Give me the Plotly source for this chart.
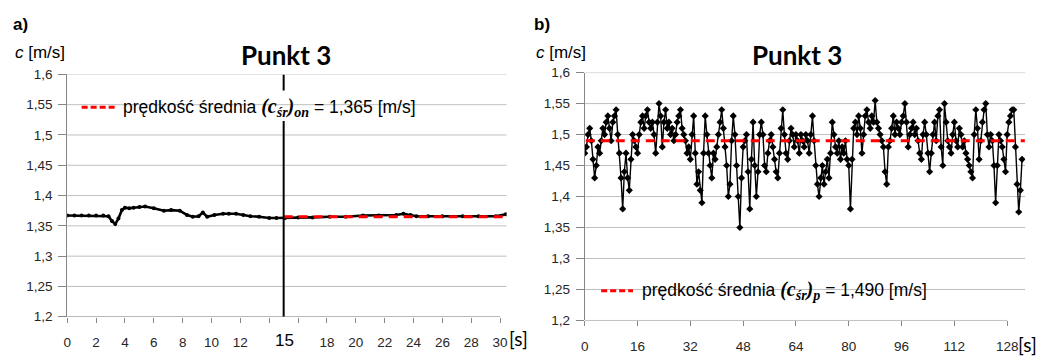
import plotly.graph_objects as go

# ---- panel a): 0-30 s, mean taken over the second half ----
t_a = [0.0, 0.5, 1.0, 1.5, 2.0, 2.5, 2.86, 3.1, 3.33, 3.55, 3.79, 4.0, 4.3, 4.6, 5.0,
       5.4, 6.0, 6.7, 7.2, 7.8, 8.3, 8.7, 9.1, 9.4, 9.7, 10.2, 10.8, 11.2, 11.7, 12.2,
       12.7, 13.3, 14.0, 14.5, 15.1, 16.0, 17.0, 18.2, 19.3, 20.5, 21.6, 22.8, 23.3,
       23.8, 24.2, 25.0, 26.0, 27.4, 28.5, 29.7, 30.4]
c_a = [1.367, 1.367, 1.367, 1.367, 1.367, 1.367, 1.366, 1.358, 1.353, 1.362, 1.376,
       1.380, 1.379, 1.380, 1.381, 1.382, 1.379, 1.375, 1.376, 1.375, 1.368, 1.365,
       1.366, 1.372, 1.365, 1.368, 1.370, 1.370, 1.370, 1.368, 1.366, 1.365, 1.363,
       1.363, 1.363, 1.364, 1.364, 1.365, 1.365, 1.367, 1.367, 1.368, 1.370, 1.368,
       1.366, 1.366, 1.366, 1.366, 1.366, 1.366, 1.369]
split_t = 15
mean_on = 1.365

# ---- panel b): 0-133 s, sampled every 0.5 s ----
dt_b = 0.5
c_b = [1.47, 1.48, 1.50, 1.51, 1.49, 1.46, 1.43, 1.45, 1.48, 1.47,
       1.49, 1.51, 1.50, 1.52, 1.53, 1.51, 1.49, 1.52, 1.53, 1.54,
       1.50, 1.47, 1.43, 1.38, 1.44, 1.47, 1.43, 1.41, 1.46, 1.50,
       1.49, 1.48, 1.47, 1.50, 1.52, 1.53, 1.51, 1.53, 1.54, 1.52,
       1.51, 1.52, 1.50, 1.47, 1.52, 1.55, 1.53, 1.48, 1.52, 1.54,
       1.51, 1.52, 1.50, 1.51, 1.49, 1.50, 1.52, 1.53, 1.54, 1.51,
       1.50, 1.49, 1.47, 1.48, 1.46, 1.50, 1.53, 1.47, 1.42, 1.44,
       1.41, 1.39, 1.47, 1.53, 1.50, 1.47, 1.45, 1.43, 1.47, 1.46,
       1.48, 1.50, 1.52, 1.54, 1.51, 1.48, 1.45, 1.40, 1.42, 1.49,
       1.53, 1.50, 1.45, 1.40, 1.35, 1.43, 1.48, 1.49, 1.50, 1.44,
       1.38, 1.46, 1.52, 1.45, 1.40, 1.44, 1.50, 1.52, 1.50, 1.45,
       1.44, 1.47, 1.49, 1.50, 1.48, 1.46, 1.44, 1.43, 1.47, 1.51,
       1.54, 1.50, 1.47, 1.46, 1.49, 1.51, 1.50, 1.48, 1.50, 1.49,
       1.47, 1.50, 1.49, 1.48, 1.50, 1.49, 1.47, 1.50, 1.53, 1.49,
       1.45, 1.42, 1.40, 1.43, 1.45, 1.42, 1.44, 1.46, 1.43, 1.47,
       1.52, 1.50, 1.48, 1.47, 1.49, 1.46, 1.48, 1.47, 1.49, 1.46,
       1.45, 1.38, 1.46, 1.51, 1.52, 1.50, 1.53, 1.51, 1.47, 1.50,
       1.53, 1.54, 1.52, 1.51, 1.53, 1.52, 1.555, 1.52, 1.51, 1.50,
       1.49, 1.48, 1.44, 1.42, 1.48, 1.49, 1.51, 1.53, 1.50, 1.52,
       1.51, 1.50, 1.52, 1.53, 1.55, 1.52, 1.48, 1.50, 1.51, 1.52,
       1.50, 1.51, 1.49, 1.47, 1.46, 1.50, 1.52, 1.50, 1.47, 1.44,
       1.47, 1.50, 1.52, 1.49, 1.53, 1.54, 1.48, 1.45, 1.55, 1.52,
       1.49, 1.48, 1.47, 1.50, 1.52, 1.49, 1.48, 1.51, 1.50, 1.48,
       1.49, 1.47, 1.46, 1.45, 1.44, 1.43, 1.50, 1.54, 1.51, 1.46,
       1.49, 1.52, 1.54, 1.55, 1.50, 1.48, 1.50, 1.49, 1.45, 1.39,
       1.45, 1.50, 1.49, 1.48, 1.46, 1.44, 1.50, 1.52, 1.53, 1.54,
       1.54, 1.48, 1.42, 1.375, 1.41, 1.46]
t_b = [i * dt_b for i in range(len(c_b))]
mean_p = 1.490

# ---- axes ----
y_ticks = [1.2, 1.25, 1.3, 1.35, 1.4, 1.45, 1.5, 1.55, 1.6]
y_ticktext = ["1,2", "1,25", "1,3", "1,35", "1,4", "1,45", "1,5", "1,55", "1,6"]
x_ticks_a = list(range(0, 31, 2))
x_ticktext_a = ["0", "2", "4", "6", "8", "10", "12", "", "", "18", "20", "22",
                "24", "26", "28", "30"]
x_ticks_b = list(range(0, 129, 16))
x_ticktext_b = ["0", "16", "32", "48", "64", "80", "96", "112", "128"]

W, H = 1061, 363
X_END_A, X_END_B = 30.45, 133.45
GRID = "#BFBFBF"
AXIS = "#868686"
RED = "#FF0000"
TICKFONT = dict(family="Liberation Sans, Arial", size=13.5, color="#262626")

fig = go.Figure()

# data
fig.add_trace(go.Scatter(x=t_a, y=c_a, mode="lines+markers", xaxis="x", yaxis="y",
                         line=dict(color="black", width=2.6),
                         marker=dict(color="black", size=4), showlegend=False))
fig.add_trace(go.Scatter(x=[split_t, X_END_A], y=[mean_on, mean_on], mode="lines",
                         xaxis="x", yaxis="y",
                         line=dict(color=RED, width=3, dash="9px,6px"), showlegend=False))
fig.add_trace(go.Scatter(x=t_b, y=c_b, mode="lines+markers", xaxis="x2", yaxis="y2",
                         line=dict(color="black", width=1.4),
                         marker=dict(color="black", size=5.5, symbol="diamond"),
                         showlegend=False))
fig.add_trace(go.Scatter(x=[0.3, X_END_B - 0.1], y=[mean_p, mean_p], mode="lines",
                         xaxis="x2", yaxis="y2",
                         line=dict(color=RED, width=3, dash="9px,6px"), showlegend=False))

def px_x(x):
    return x / W

def px_y(y):
    return 1 - y / H

xa = dict(anchor="y", range=[0, X_END_A], domain=[px_x(63.5), px_x(505)], showgrid=False,
          zeroline=False, showline=False, ticks="outside", ticklen=5, tickwidth=1,
          tickcolor=AXIS, tickmode="array", tickvals=x_ticks_a, ticktext=x_ticktext_a,
          tickfont=TICKFONT, ticklabelstandoff=8)
xb = dict(xa, anchor="y2", range=[0, X_END_B], domain=[px_x(583.5), px_x(1026)],
          tickvals=x_ticks_b, ticktext=x_ticktext_b)
ya = dict(anchor="x", range=[1.2, 1.6], domain=[px_y(323.1), px_y(70.3)], showgrid=False,
          zeroline=False, showline=True, linecolor=AXIS, linewidth=1,
          ticks="outside", ticklen=8, tickwidth=1, tickcolor=AXIS,
          tickmode="array", tickvals=y_ticks, ticktext=y_ticktext, tickfont=TICKFONT,
          ticklabelstandoff=3)
yb = dict(ya, anchor="x2", domain=[px_y(327), px_y(68.4)])

shapes = []
for xr, yr, xend in (("x", "y", 30), ("x2", "y2", 128)):
    for v in y_ticks[1:]:
        shapes.append(dict(type="line", xref=xr + " domain", yref=yr, x0=0, x1=1,
                           y0=v, y1=v, line=dict(color=GRID, width=1), layer="below"))
    shapes.append(dict(type="line", xref=xr, yref=yr, x0=0, x1=xend, y0=1.2, y1=1.2,
                       line=dict(color=AXIS, width=1), layer="below"))

# split marker at 15 s, interrupted behind the key text
shapes.append(dict(type="line", xref="x", yref="y", x0=split_t, x1=split_t,
                   y0=1.2, y1=1.523, line=dict(color="black", width=2)))
shapes.append(dict(type="line", xref="x", yref="y", x0=split_t, x1=split_t,
                   y0=1.5736, y1=1.6, line=dict(color="black", width=2)))

# key samples
for (x0, x1, y) in ((78, 112, 104.5), (600, 632, 296)):
    shapes.append(dict(type="line", xref="paper", yref="paper", x0=px_x(x0), x1=px_x(x1),
                       y0=px_y(y), y1=px_y(y),
                       line=dict(color=RED, width=3, dash="6px,3px")))

SANS = "Liberation Sans, Arial"
ann = []

def label(text, x, y, size, anchor="left", family=SANS, color="black"):
    ann.append(dict(text=text, x=px_x(x), y=px_y(y), xref="paper", yref="paper",
                    xanchor=anchor, yanchor="middle", showarrow=False,
                    font=dict(family=family, size=size, color=color)))

MATH_ON = ("<span style='font-family:Liberation Serif;font-size:20px'>"
           "<b><i>(c<sub>śr</sub>)<sub>on</sub></i></b></span>")
MATH_P = ("<span style='font-family:Liberation Serif;font-size:20px'>"
          "<b><i>(c<sub>śr</sub>)<sub>p</sub></i></b></span>")

label("<b>a)</b>", 7, 18, 17)
label("<b>b)</b>", 531, 18, 17)
label("<i>c</i> [m/s]", 9, 47, 17)
label("<i>c</i> [m/s]", 533, 47, 17)
label("<b>Punkt 3</b>", 283, 50, 26, anchor="center", family="Lato, Open Sans")
label("<b>Punkt 3</b>", 797, 50, 26, anchor="center", family="Lato, Open Sans")
label("15", 282, 348, 17, anchor="center", family="Liberation Sans, Arial")
label("[s]", 505, 346, 19, family="Lato, Open Sans")
label("[s]", 1017, 352, 19, family="Lato, Open Sans")
label("prędkość średnia " + MATH_ON + " = 1,365 [m/s]", 118, 105, 17.5)
label("prędkość średnia " + MATH_P + " = 1,490 [m/s]", 639, 296, 17.5)

fig.update_layout(width=W, height=H, margin=dict(l=0, r=0, t=0, b=0),
                  paper_bgcolor="white", plot_bgcolor="white",
                  xaxis=xa, yaxis=ya, xaxis2=xb, yaxis2=yb,
                  shapes=shapes, annotations=ann, showlegend=False)

fig.write_html("out.html")
